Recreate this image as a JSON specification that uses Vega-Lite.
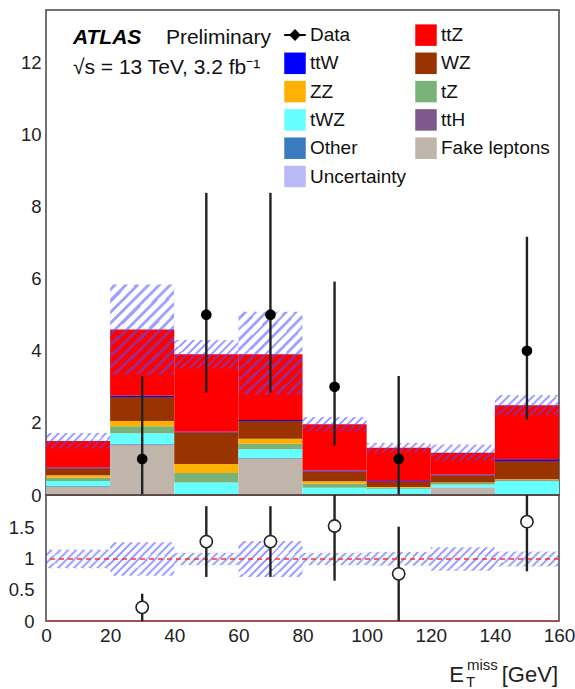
{
  "$schema": "https://vega.github.io/schema/vega-lite/v6.json",
  "bounds": "flush",
  "spacing": 0,
  "padding": {"left": 7, "top": 8, "right": 5, "bottom": 5},
  "config": {
    "font": "Liberation Sans",
    "view": {"stroke": "#444", "strokeWidth": 1.5},
    "axis": {
      "labelOverlap": false,
      "labelFlush": false,
      "domain": false,
      "grid": false,
      "tickColor": "#444",
      "tickWidth": 1.2,
      "tickSize": 0,
      "labelColor": "#222",
      "labelFontSize": 18.5,
      "labelFont": "Liberation Sans"
    },
    "legend": {
      "orient": "none",
      "legendX": 238,
      "legendY": 14,
      "padding": 0,
      "symbolSize": 462,
      "symbolStrokeWidth": 0,
      "labelOffset": 4,
      "labelFontSize": 19,
      "labelFont": "Liberation Sans",
      "labelColor": "#111",
      "rowPadding": 6.3,
      "columnPadding": 8
    }
  },
  "datasets": {
    "mc": [
      {"lo": 0, "hi": 20, "Fake leptons": 0.22, "Other": 0, "ttH": 0.02, "tWZ": 0.15, "tZ": 0.09, "ZZ": 0.07, "WZ": 0.19, "ttW": 0.02, "ttZ": 0.74},
      {"lo": 20, "hi": 40, "Fake leptons": 1.38, "Other": 0, "ttH": 0.03, "tWZ": 0.30, "tZ": 0.20, "ZZ": 0.14, "WZ": 0.67, "ttW": 0.04, "ttZ": 1.83},
      {"lo": 40, "hi": 60, "Fake leptons": 0, "Other": 0.02, "ttH": 0.01, "tWZ": 0.32, "tZ": 0.26, "ZZ": 0.25, "WZ": 0.88, "ttW": 0.02, "ttZ": 2.14},
      {"lo": 60, "hi": 80, "Fake leptons": 1.00, "Other": 0, "ttH": 0.02, "tWZ": 0.25, "tZ": 0.15, "ZZ": 0.14, "WZ": 0.49, "ttW": 0.03, "ttZ": 1.82},
      {"lo": 80, "hi": 100, "Fake leptons": 0, "Other": 0.02, "ttH": 0.01, "tWZ": 0.17, "tZ": 0.12, "ZZ": 0.06, "WZ": 0.27, "ttW": 0.03, "ttZ": 1.28},
      {"lo": 100, "hi": 120, "Fake leptons": 0, "Other": 0.01, "ttH": 0.01, "tWZ": 0.15, "tZ": 0.03, "ZZ": 0.02, "WZ": 0.15, "ttW": 0.02, "ttZ": 0.92},
      {"lo": 120, "hi": 140, "Fake leptons": 0.20, "Other": 0, "ttH": 0.01, "tWZ": 0.08, "tZ": 0.04, "ZZ": 0.02, "WZ": 0.20, "ttW": 0.02, "ttZ": 0.60},
      {"lo": 140, "hi": 160, "Fake leptons": 0, "Other": 0.02, "ttH": 0.01, "tWZ": 0.35, "tZ": 0.04, "ZZ": 0.02, "WZ": 0.50, "ttW": 0.05, "ttZ": 1.50}
    ],
    "band": [
      {"lo": 0, "hi": 20, "down": 1.28, "up": 1.72, "rDown": 0.85, "rUp": 1.15},
      {"lo": 20, "hi": 40, "down": 3.34, "up": 5.84, "rDown": 0.73, "rUp": 1.27},
      {"lo": 40, "hi": 60, "down": 3.50, "up": 4.30, "rDown": 0.90, "rUp": 1.10},
      {"lo": 60, "hi": 80, "down": 2.78, "up": 5.08, "rDown": 0.71, "rUp": 1.29},
      {"lo": 80, "hi": 100, "down": 1.76, "up": 2.16, "rDown": 0.90, "rUp": 1.10},
      {"lo": 100, "hi": 120, "down": 1.17, "up": 1.45, "rDown": 0.89, "rUp": 1.11},
      {"lo": 120, "hi": 140, "down": 0.95, "up": 1.40, "rDown": 0.81, "rUp": 1.19},
      {"lo": 140, "hi": 160, "down": 2.21, "up": 2.77, "rDown": 0.88, "rUp": 1.12}
    ],
    "obs": [
      {"x": 30, "n": 1, "lo": 0, "hi": 3.30, "ratio": 0.22, "rLo": 0, "rHi": 0.44},
      {"x": 50, "n": 5, "lo": 2.84, "hi": 8.38, "ratio": 1.28, "rLo": 0.71, "rHi": 1.85},
      {"x": 70, "n": 5, "lo": 2.84, "hi": 8.38, "ratio": 1.28, "rLo": 0.71, "rHi": 1.85},
      {"x": 90, "n": 3, "lo": 1.37, "hi": 5.92, "ratio": 1.53, "rLo": 0.65, "rHi": 2.41},
      {"x": 110, "n": 1, "lo": 0, "hi": 3.30, "ratio": 0.76, "rLo": 0, "rHi": 1.52},
      {"x": 150, "n": 4, "lo": 2.09, "hi": 7.16, "ratio": 1.60, "rLo": 0.80, "rHi": 2.40}
    ]
  },
  "vconcat": [
    {
      "width": 513,
      "height": 485,
      "resolve": {"axis": {"x": "independent", "y": "independent"}},
      "layer": [
        {
          "data": {"name": "mc"},
          "transform": [
            {"fold": ["Fake leptons", "Other", "ttH", "tWZ", "tZ", "ZZ", "WZ", "ttW", "ttZ"], "as": ["process", "n"]},
            {"calculate": "indexof(['Fake leptons','Other','ttH','tWZ','tZ','ZZ','WZ','ttW','ttZ'], datum.process)", "as": "stackRank"},
            {"stack": "n", "groupby": ["lo"], "sort": [{"field": "stackRank", "order": "ascending"}], "as": ["y0", "y1"]}
          ],
          "mark": {"type": "rect", "strokeWidth": 0},
          "encoding": {
            "x": {
              "field": "lo", "type": "quantitative",
              "scale": {"domain": [0, 160], "nice": false, "zero": false},
              "axis": {
                "orient": "bottom", "title": null, "labels": false,
                "values": [0,5,10,15,20,25,30,35,40,45,50,55,60,65,70,75,80,85,90,95,100,105,110,115,120,125,130,135,140,145,150,155,160],
                "encode": {"ticks": {"y2": {"condition": {"test": "datum.value % 20 === 0", "value": -14}, "value": -7}}}
              }
            },
            "x2": {"field": "hi"},
            "y": {
              "field": "y0", "type": "quantitative",
              "scale": {"domain": [0, 13.45], "nice": false},
              "axis": {
                "orient": "left", "title": null, "labelPadding": 5,
                "values": [0,0.5,1,1.5,2,2.5,3,3.5,4,4.5,5,5.5,6,6.5,7,7.5,8,8.5,9,9.5,10,10.5,11,11.5,12,12.5,13],
                "labelExpr": "datum.value % 2 === 0 ? '' + datum.value : ''",
                "encode": {"ticks": {"x2": {"condition": {"test": "datum.value % 2 === 0", "value": 16}, "value": 8}}}
              }
            },
            "y2": {"field": "y1"},
            "color": {
              "field": "process", "type": "nominal",
              "scale": {
                "domain": ["Data", "ttW", "ZZ", "tWZ", "Other", "Uncertainty", "ttZ", "WZ", "tZ", "ttH", "Fake leptons"],
                "range": ["transparent", "#0000ff", "#ffb000", "#66ffff", "#3a7bc0", "#b9b9f7", "#ff0000", "#993300", "#7ab37a", "#7e5a8c", "#bfb5ab"]
              },
              "legend": {
                "title": null,
                "columns": 2,
                "symbolType": "square",
                "labelExpr": "datum.label === 'Data' ? '' : datum.label"
              }
            }
          }
        },
        {
          "data": {"name": "band"},
          "mark": {
            "type": "rect", "strokeWidth": 0,
            "fill": {
              "gradient": "radial", "x1": -10, "y1": -10, "r1": 0, "x2": -10, "y2": -10, "r2": 16,
              "stops": [
                {"offset": 0.87, "color": "rgba(80,80,255,0)"}, {"offset": 0.87, "color": "rgba(80,80,255,0.55)"}, {"offset": 0.872, "color": "rgba(80,80,255,0.55)"}, {"offset": 0.872, "color": "rgba(80,80,255,0)"},
                {"offset": 0.8755, "color": "rgba(80,80,255,0)"}, {"offset": 0.8755, "color": "rgba(80,80,255,0.55)"}, {"offset": 0.8775, "color": "rgba(80,80,255,0.55)"}, {"offset": 0.8775, "color": "rgba(80,80,255,0)"},
                {"offset": 0.881, "color": "rgba(80,80,255,0)"}, {"offset": 0.881, "color": "rgba(80,80,255,0.55)"}, {"offset": 0.883, "color": "rgba(80,80,255,0.55)"}, {"offset": 0.883, "color": "rgba(80,80,255,0)"},
                {"offset": 0.8865, "color": "rgba(80,80,255,0)"}, {"offset": 0.8865, "color": "rgba(80,80,255,0.55)"}, {"offset": 0.8885, "color": "rgba(80,80,255,0.55)"}, {"offset": 0.8885, "color": "rgba(80,80,255,0)"},
                {"offset": 0.892, "color": "rgba(80,80,255,0)"}, {"offset": 0.892, "color": "rgba(80,80,255,0.55)"}, {"offset": 0.894, "color": "rgba(80,80,255,0.55)"}, {"offset": 0.894, "color": "rgba(80,80,255,0)"},
                {"offset": 0.8975, "color": "rgba(80,80,255,0)"}, {"offset": 0.8975, "color": "rgba(80,80,255,0.55)"}, {"offset": 0.8995, "color": "rgba(80,80,255,0.55)"}, {"offset": 0.8995, "color": "rgba(80,80,255,0)"},
                {"offset": 0.903, "color": "rgba(80,80,255,0)"}, {"offset": 0.903, "color": "rgba(80,80,255,0.55)"}, {"offset": 0.905, "color": "rgba(80,80,255,0.55)"}, {"offset": 0.905, "color": "rgba(80,80,255,0)"},
                {"offset": 0.9085, "color": "rgba(80,80,255,0)"}, {"offset": 0.9085, "color": "rgba(80,80,255,0.55)"}, {"offset": 0.9105, "color": "rgba(80,80,255,0.55)"}, {"offset": 0.9105, "color": "rgba(80,80,255,0)"},
                {"offset": 0.914, "color": "rgba(80,80,255,0)"}, {"offset": 0.914, "color": "rgba(80,80,255,0.55)"}, {"offset": 0.916, "color": "rgba(80,80,255,0.55)"}, {"offset": 0.916, "color": "rgba(80,80,255,0)"},
                {"offset": 0.9195, "color": "rgba(80,80,255,0)"}, {"offset": 0.9195, "color": "rgba(80,80,255,0.55)"}, {"offset": 0.9215, "color": "rgba(80,80,255,0.55)"}, {"offset": 0.9215, "color": "rgba(80,80,255,0)"},
                {"offset": 0.925, "color": "rgba(80,80,255,0)"}, {"offset": 0.925, "color": "rgba(80,80,255,0.55)"}, {"offset": 0.927, "color": "rgba(80,80,255,0.55)"}, {"offset": 0.927, "color": "rgba(80,80,255,0)"},
                {"offset": 0.9305, "color": "rgba(80,80,255,0)"}, {"offset": 0.9305, "color": "rgba(80,80,255,0.55)"}, {"offset": 0.9325, "color": "rgba(80,80,255,0.55)"}, {"offset": 0.9325, "color": "rgba(80,80,255,0)"},
                {"offset": 0.936, "color": "rgba(80,80,255,0)"}, {"offset": 0.936, "color": "rgba(80,80,255,0.55)"}, {"offset": 0.938, "color": "rgba(80,80,255,0.55)"}, {"offset": 0.938, "color": "rgba(80,80,255,0)"},
                {"offset": 0.9415, "color": "rgba(80,80,255,0)"}, {"offset": 0.9415, "color": "rgba(80,80,255,0.55)"}, {"offset": 0.9435, "color": "rgba(80,80,255,0.55)"}, {"offset": 0.9435, "color": "rgba(80,80,255,0)"},
                {"offset": 0.947, "color": "rgba(80,80,255,0)"}, {"offset": 0.947, "color": "rgba(80,80,255,0.55)"}, {"offset": 0.949, "color": "rgba(80,80,255,0.55)"}, {"offset": 0.949, "color": "rgba(80,80,255,0)"},
                {"offset": 0.9525, "color": "rgba(80,80,255,0)"}, {"offset": 0.9525, "color": "rgba(80,80,255,0.55)"}, {"offset": 0.9545, "color": "rgba(80,80,255,0.55)"}, {"offset": 0.9545, "color": "rgba(80,80,255,0)"},
                {"offset": 0.958, "color": "rgba(80,80,255,0)"}, {"offset": 0.958, "color": "rgba(80,80,255,0.55)"}, {"offset": 0.96, "color": "rgba(80,80,255,0.55)"}, {"offset": 0.96, "color": "rgba(80,80,255,0)"},
                {"offset": 0.9635, "color": "rgba(80,80,255,0)"}, {"offset": 0.9635, "color": "rgba(80,80,255,0.55)"}, {"offset": 0.9655, "color": "rgba(80,80,255,0.55)"}, {"offset": 0.9655, "color": "rgba(80,80,255,0)"},
                {"offset": 0.969, "color": "rgba(80,80,255,0)"}, {"offset": 0.969, "color": "rgba(80,80,255,0.55)"}, {"offset": 0.971, "color": "rgba(80,80,255,0.55)"}, {"offset": 0.971, "color": "rgba(80,80,255,0)"},
                {"offset": 0.9745, "color": "rgba(80,80,255,0)"}, {"offset": 0.9745, "color": "rgba(80,80,255,0.55)"}, {"offset": 0.9765, "color": "rgba(80,80,255,0.55)"}, {"offset": 0.9765, "color": "rgba(80,80,255,0)"}
              ]
            }
          },
          "encoding": {
            "x": {
              "field": "lo", "type": "quantitative",
              "axis": {
                "orient": "top", "title": null, "labels": false,
                "values": [0,5,10,15,20,25,30,35,40,45,50,55,60,65,70,75,80,85,90,95,100,105,110,115,120,125,130,135,140,145,150,155,160],
                "encode": {"ticks": {"y2": {"condition": {"test": "datum.value % 20 === 0", "value": 14}, "value": 7}}}
              }
            },
            "x2": {"field": "hi"},
            "y": {
              "field": "down", "type": "quantitative",
              "axis": {
                "orient": "right", "title": null, "labels": false,
                "values": [0,0.5,1,1.5,2,2.5,3,3.5,4,4.5,5,5.5,6,6.5,7,7.5,8,8.5,9,9.5,10,10.5,11,11.5,12,12.5,13],
                "encode": {"ticks": {"x2": {"condition": {"test": "datum.value % 2 === 0", "value": -16}, "value": -8}}}
              }
            },
            "y2": {"field": "up"}
          }
        },
        {
          "data": {"values": [{}]},
          "mark": {"type": "rule", "color": "#cc3333", "strokeWidth": 1.2},
          "encoding": {"y": {"datum": 0, "type": "quantitative", "axis": null}}
        },
        {
          "data": {"name": "obs"},
          "mark": {"type": "rule", "color": "#222", "strokeWidth": 2.4},
          "encoding": {
            "x": {"field": "x", "type": "quantitative", "axis": null},
            "y": {"field": "lo", "type": "quantitative", "axis": null},
            "y2": {"field": "hi"}
          }
        },
        {
          "data": {"name": "obs"},
          "mark": {"type": "point", "filled": true, "shape": "circle", "size": 115, "color": "#000", "opacity": 1},
          "encoding": {
            "x": {"field": "x", "type": "quantitative", "axis": null},
            "y": {"field": "n", "type": "quantitative", "axis": null}
          }
        },
        {
          "data": {"values": []},
          "mark": {"type": "point", "filled": true, "color": "#000", "opacity": 1},
          "encoding": {
            "shape": {
              "field": "series", "type": "nominal",
              "scale": {"domain": ["Data"], "range": ["M-1,-0.09H1V0.09H-1Z M0,-0.55L0.55,0L0,0.55L-0.55,0Z"]},
              "legend": {"title": null, "symbolOpacity": 1}
            }
          }
        },
        {
          "data": {"values": [{}]},
          "mark": {"type": "text", "text": "ATLAS", "fontSize": 21, "fontWeight": "bold", "fontStyle": "italic", "align": "left", "baseline": "alphabetic", "color": "#000"},
          "encoding": {
            "x": {"datum": 8.4, "type": "quantitative", "axis": null},
            "y": {"datum": 12.5, "type": "quantitative", "axis": null}
          }
        },
        {
          "data": {"values": [{}]},
          "mark": {"type": "text", "text": "Preliminary", "fontSize": 21, "align": "left", "baseline": "alphabetic", "color": "#111"},
          "encoding": {
            "x": {"datum": 37.4, "type": "quantitative", "axis": null},
            "y": {"datum": 12.5, "type": "quantitative", "axis": null}
          }
        },
        {
          "data": {"values": [{}]},
          "mark": {"type": "text", "text": "√s = 13 TeV, 3.2 fb⁻¹", "fontSize": 21, "align": "left", "baseline": "alphabetic", "color": "#111"},
          "encoding": {
            "x": {"datum": 8.4, "type": "quantitative", "axis": null},
            "y": {"datum": 11.67, "type": "quantitative", "axis": null}
          }
        }
      ]
    },
    {
      "width": 513,
      "height": 126,
      "resolve": {"axis": {"x": "independent", "y": "independent"}},
      "layer": [
        {
          "data": {"name": "band"},
          "mark": {
            "type": "rect", "strokeWidth": 0,
            "fill": {
              "gradient": "radial", "x1": -10, "y1": -10, "r1": 0, "x2": -10, "y2": -10, "r2": 16,
              "stops": [
                {"offset": 0.87, "color": "rgba(80,80,255,0)"}, {"offset": 0.87, "color": "rgba(80,80,255,0.55)"}, {"offset": 0.872, "color": "rgba(80,80,255,0.55)"}, {"offset": 0.872, "color": "rgba(80,80,255,0)"},
                {"offset": 0.8755, "color": "rgba(80,80,255,0)"}, {"offset": 0.8755, "color": "rgba(80,80,255,0.55)"}, {"offset": 0.8775, "color": "rgba(80,80,255,0.55)"}, {"offset": 0.8775, "color": "rgba(80,80,255,0)"},
                {"offset": 0.881, "color": "rgba(80,80,255,0)"}, {"offset": 0.881, "color": "rgba(80,80,255,0.55)"}, {"offset": 0.883, "color": "rgba(80,80,255,0.55)"}, {"offset": 0.883, "color": "rgba(80,80,255,0)"},
                {"offset": 0.8865, "color": "rgba(80,80,255,0)"}, {"offset": 0.8865, "color": "rgba(80,80,255,0.55)"}, {"offset": 0.8885, "color": "rgba(80,80,255,0.55)"}, {"offset": 0.8885, "color": "rgba(80,80,255,0)"},
                {"offset": 0.892, "color": "rgba(80,80,255,0)"}, {"offset": 0.892, "color": "rgba(80,80,255,0.55)"}, {"offset": 0.894, "color": "rgba(80,80,255,0.55)"}, {"offset": 0.894, "color": "rgba(80,80,255,0)"},
                {"offset": 0.8975, "color": "rgba(80,80,255,0)"}, {"offset": 0.8975, "color": "rgba(80,80,255,0.55)"}, {"offset": 0.8995, "color": "rgba(80,80,255,0.55)"}, {"offset": 0.8995, "color": "rgba(80,80,255,0)"},
                {"offset": 0.903, "color": "rgba(80,80,255,0)"}, {"offset": 0.903, "color": "rgba(80,80,255,0.55)"}, {"offset": 0.905, "color": "rgba(80,80,255,0.55)"}, {"offset": 0.905, "color": "rgba(80,80,255,0)"},
                {"offset": 0.9085, "color": "rgba(80,80,255,0)"}, {"offset": 0.9085, "color": "rgba(80,80,255,0.55)"}, {"offset": 0.9105, "color": "rgba(80,80,255,0.55)"}, {"offset": 0.9105, "color": "rgba(80,80,255,0)"},
                {"offset": 0.914, "color": "rgba(80,80,255,0)"}, {"offset": 0.914, "color": "rgba(80,80,255,0.55)"}, {"offset": 0.916, "color": "rgba(80,80,255,0.55)"}, {"offset": 0.916, "color": "rgba(80,80,255,0)"},
                {"offset": 0.9195, "color": "rgba(80,80,255,0)"}, {"offset": 0.9195, "color": "rgba(80,80,255,0.55)"}, {"offset": 0.9215, "color": "rgba(80,80,255,0.55)"}, {"offset": 0.9215, "color": "rgba(80,80,255,0)"},
                {"offset": 0.925, "color": "rgba(80,80,255,0)"}, {"offset": 0.925, "color": "rgba(80,80,255,0.55)"}, {"offset": 0.927, "color": "rgba(80,80,255,0.55)"}, {"offset": 0.927, "color": "rgba(80,80,255,0)"},
                {"offset": 0.9305, "color": "rgba(80,80,255,0)"}, {"offset": 0.9305, "color": "rgba(80,80,255,0.55)"}, {"offset": 0.9325, "color": "rgba(80,80,255,0.55)"}, {"offset": 0.9325, "color": "rgba(80,80,255,0)"},
                {"offset": 0.936, "color": "rgba(80,80,255,0)"}, {"offset": 0.936, "color": "rgba(80,80,255,0.55)"}, {"offset": 0.938, "color": "rgba(80,80,255,0.55)"}, {"offset": 0.938, "color": "rgba(80,80,255,0)"},
                {"offset": 0.9415, "color": "rgba(80,80,255,0)"}, {"offset": 0.9415, "color": "rgba(80,80,255,0.55)"}, {"offset": 0.9435, "color": "rgba(80,80,255,0.55)"}, {"offset": 0.9435, "color": "rgba(80,80,255,0)"},
                {"offset": 0.947, "color": "rgba(80,80,255,0)"}, {"offset": 0.947, "color": "rgba(80,80,255,0.55)"}, {"offset": 0.949, "color": "rgba(80,80,255,0.55)"}, {"offset": 0.949, "color": "rgba(80,80,255,0)"},
                {"offset": 0.9525, "color": "rgba(80,80,255,0)"}, {"offset": 0.9525, "color": "rgba(80,80,255,0.55)"}, {"offset": 0.9545, "color": "rgba(80,80,255,0.55)"}, {"offset": 0.9545, "color": "rgba(80,80,255,0)"},
                {"offset": 0.958, "color": "rgba(80,80,255,0)"}, {"offset": 0.958, "color": "rgba(80,80,255,0.55)"}, {"offset": 0.96, "color": "rgba(80,80,255,0.55)"}, {"offset": 0.96, "color": "rgba(80,80,255,0)"},
                {"offset": 0.9635, "color": "rgba(80,80,255,0)"}, {"offset": 0.9635, "color": "rgba(80,80,255,0.55)"}, {"offset": 0.9655, "color": "rgba(80,80,255,0.55)"}, {"offset": 0.9655, "color": "rgba(80,80,255,0)"},
                {"offset": 0.969, "color": "rgba(80,80,255,0)"}, {"offset": 0.969, "color": "rgba(80,80,255,0.55)"}, {"offset": 0.971, "color": "rgba(80,80,255,0.55)"}, {"offset": 0.971, "color": "rgba(80,80,255,0)"},
                {"offset": 0.9745, "color": "rgba(80,80,255,0)"}, {"offset": 0.9745, "color": "rgba(80,80,255,0.55)"}, {"offset": 0.9765, "color": "rgba(80,80,255,0.55)"}, {"offset": 0.9765, "color": "rgba(80,80,255,0)"}
              ]
            }
          },
          "encoding": {
            "x": {
              "field": "lo", "type": "quantitative",
              "scale": {"domain": [0, 160], "nice": false, "zero": false},
              "axis": {
                "orient": "bottom", "title": null, "labelPadding": 5, "labelFontSize": 19,
                "values": [0,5,10,15,20,25,30,35,40,45,50,55,60,65,70,75,80,85,90,95,100,105,110,115,120,125,130,135,140,145,150,155,160],
                "labelExpr": "datum.value % 20 === 0 ? '' + datum.value : ''",
                "encode": {"ticks": {"y2": {"condition": {"test": "datum.value % 20 === 0", "value": -9}, "value": -5}}}
              }
            },
            "x2": {"field": "hi"},
            "y": {
              "field": "rDown", "type": "quantitative",
              "scale": {"domain": [0, 2.03], "nice": false},
              "axis": {
                "orient": "left", "title": null, "labelPadding": 12,
                "values": [0,0.1,0.2,0.3,0.4,0.5,0.6,0.7,0.8,0.9,1,1.1,1.2,1.3,1.4,1.5,1.6,1.7,1.8,1.9,2],
                "labelExpr": "(abs(datum.value * 2 - round(datum.value * 2)) < 0.001 && datum.value < 1.9) ? '' + datum.value : ''",
                "encode": {"ticks": {"x2": {"condition": {"test": "abs(datum.value * 2 - round(datum.value * 2)) < 0.001", "value": 12}, "value": 6}}}
              }
            },
            "y2": {"field": "rUp"}
          }
        },
        {
          "data": {"values": [{}]},
          "mark": {"type": "rule", "color": "#ff3030", "strokeWidth": 1.6, "strokeDash": [5, 4]},
          "encoding": {
            "y": {
              "datum": 1, "type": "quantitative",
              "axis": {
                "orient": "right", "title": null, "labels": false,
                "values": [0,0.1,0.2,0.3,0.4,0.5,0.6,0.7,0.8,0.9,1,1.1,1.2,1.3,1.4,1.5,1.6,1.7,1.8,1.9,2],
                "encode": {"ticks": {"x2": {"condition": {"test": "abs(datum.value * 2 - round(datum.value * 2)) < 0.001", "value": -10}, "value": -5}}}
              }
            }
          }
        },
        {
          "data": {"values": [{}]},
          "mark": {"type": "rule", "color": "#cc3333", "strokeWidth": 1.2},
          "encoding": {"y": {"datum": 0, "type": "quantitative", "axis": null}}
        },
        {
          "data": {"name": "obs"},
          "mark": {"type": "rule", "color": "#222", "strokeWidth": 2.4, "clip": true},
          "encoding": {
            "x": {"field": "x", "type": "quantitative", "axis": null},
            "y": {"field": "rLo", "type": "quantitative", "axis": null},
            "y2": {"field": "rHi"}
          }
        },
        {
          "data": {"name": "obs"},
          "mark": {"type": "point", "filled": true, "shape": "circle", "size": 150, "fill": "#ffffff", "stroke": "#222", "strokeWidth": 1.6, "opacity": 1},
          "encoding": {
            "x": {"field": "x", "type": "quantitative", "axis": null},
            "y": {"field": "ratio", "type": "quantitative", "axis": null}
          }
        },
        {
          "data": {"values": [{}]},
          "mark": {"type": "text", "text": "[GeV]", "fontSize": 22, "align": "right", "baseline": "alphabetic", "dx": -1, "dy": 61, "color": "#222"},
          "encoding": {
            "x": {"datum": 160, "type": "quantitative", "axis": null},
            "y": {"datum": 0, "type": "quantitative", "axis": null}
          }
        },
        {
          "data": {"values": [{}]},
          "mark": {"type": "text", "text": "E", "fontSize": 22, "align": "right", "baseline": "alphabetic", "dx": -95, "dy": 61, "color": "#222"},
          "encoding": {
            "x": {"datum": 160, "type": "quantitative", "axis": null},
            "y": {"datum": 0, "type": "quantitative", "axis": null}
          }
        },
        {
          "data": {"values": [{}]},
          "mark": {"type": "text", "text": "miss", "fontSize": 15, "align": "left", "baseline": "alphabetic", "dx": -92, "dy": 49, "color": "#222"},
          "encoding": {
            "x": {"datum": 160, "type": "quantitative", "axis": null},
            "y": {"datum": 0, "type": "quantitative", "axis": null}
          }
        },
        {
          "data": {"values": [{}]},
          "mark": {"type": "text", "text": "T", "fontSize": 15, "align": "left", "baseline": "alphabetic", "dx": -93, "dy": 66, "color": "#222"},
          "encoding": {
            "x": {"datum": 160, "type": "quantitative", "axis": null},
            "y": {"datum": 0, "type": "quantitative", "axis": null}
          }
        }
      ]
    }
  ]
}
